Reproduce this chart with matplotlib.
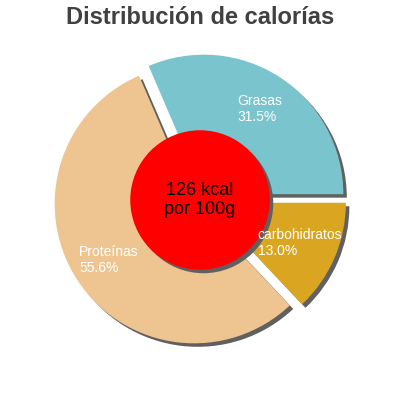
import numpy as np
import matplotlib
matplotlib.use('Agg')
import matplotlib.pyplot as plt
import matplotlib.patches as mpatches

plt.rcParams['font.family'] = ['Liberation Sans', 'DejaVu Sans']

names = ['Grasas', 'carbohidratos', 'Proteínas']
values = [31.5, 13.0, 55.6]
colors = ['#7AC5CD', '#DAA520', '#EEC591']
center_text = '126 kcal\npor 100g'
title = 'Distribución de calorías'

fig = plt.figure(figsize=(4, 4), dpi=100)
ax = fig.add_axes([0.0815, 0.0815, 0.837, 0.837])

# Grasas ends at 3 o'clock, going clockwise
start = 360 * values[0] / sum(values)
wedges, _ = ax.pie(values, colors=colors, startangle=start, counterclock=False,
                   explode=[0.05] * 3, wedgeprops={'linewidth': 0})
ax.set_xlim(-1.2, 1.2)
ax.set_ylim(-1.2, 1.2)
ax.set_aspect('equal')

# Shadow offsets end up in data units (scaled by dpi/72)
for w in wedges:
    sh = mpatches.Shadow(w, 0.018, -0.018, facecolor='#606060', edgecolor='none', alpha=1)
    ax.add_patch(sh)

for w, name, v in zip(wedges, names, values):
    mid = np.deg2rad((w.theta1 + w.theta2) / 2)
    cx, cy = w.center
    ax.text(cx + 0.73 * np.cos(mid), cy + 0.73 * np.sin(mid), f'{name}\n{v:.1f}%',
            ha='center', va='center', multialignment='left', color='white',
            fontsize=10, zorder=5)

circle = mpatches.Circle((0, 0), 0.5, facecolor='#FF0000', edgecolor='none', zorder=3)
ax.add_patch(circle)
csh = mpatches.Shadow(circle, 0.018, -0.018, facecolor='#606060', edgecolor='none', alpha=1)
csh.set_zorder(2.5)
ax.add_patch(csh)
ax.text(0, 0, center_text, ha='center', va='center', fontsize=13, color='black', zorder=4)

fig.text(0.5, 1 - 18 / 400, title, ha='center', va='center', fontsize=17,
         fontweight='bold', color='#404040')

fig.savefig('out.png', dpi=100)
